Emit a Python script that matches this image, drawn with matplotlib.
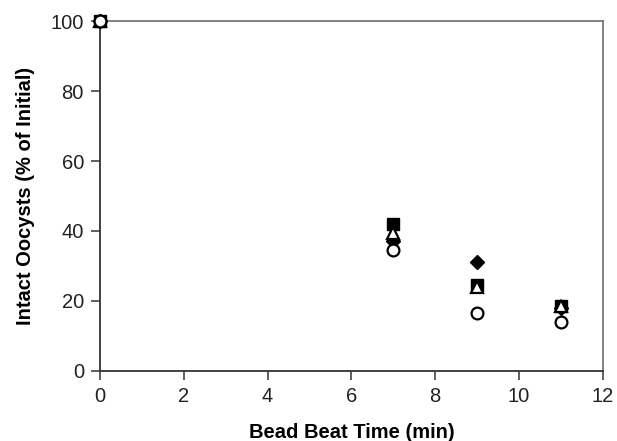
import matplotlib
matplotlib.use("Agg")
import matplotlib.pyplot as plt

plt.rcParams['font.family'] = ['Liberation Sans', 'DejaVu Sans']

# bead beat time (min)
times = [0, 7, 9, 11]

# intact oocysts (% of initial), one list per series
diamond_vals = [100, 37, 31, 18]
square_vals = [100, 42, 24.5, 18.5]
triangle_vals = [100, 39.5, 24, 18.5]
circle_vals = [100, 34.5, 16.5, 14]

fig = plt.figure(figsize=(6.17, 4.41), dpi=100)
ax = fig.add_axes([0.162, 0.159, 0.815, 0.793])

ax.plot(times, diamond_vals, linestyle='none', marker='D', markersize=7,
        color='black', zorder=3)
ax.plot(times, square_vals, linestyle='none', marker='s', markersize=8.5,
        color='black', zorder=4)
ax.plot(times, triangle_vals, linestyle='none', marker='^', markersize=9,
        markerfacecolor='white', markeredgecolor='black', markeredgewidth=1.6, zorder=5)
ax.plot(times, circle_vals, linestyle='none', marker='o', markersize=8.5,
        markerfacecolor='white', markeredgecolor='black', markeredgewidth=1.6, zorder=6)

ax.set_xlim(0, 12)
ax.set_ylim(0, 100)
ax.set_xticks(range(0, 13, 2))
ax.set_yticks(range(0, 101, 20))
ax.tick_params(direction='out', length=6.5, width=1.2, color='#444444',
               labelsize=14.5, pad=5, labelcolor='#222222')

for side in ['left', 'bottom']:
    ax.spines[side].set_color('#333333')
    ax.spines[side].set_linewidth(1.3)
for side in ['top', 'right']:
    ax.spines[side].set_color('#777777')
    ax.spines[side].set_linewidth(1.3)

ax.set_xlabel('Bead Beat Time (min)', fontsize=14.5, fontweight='bold', labelpad=12)
ax.set_ylabel('Intact Oocysts (% of Initial)', fontsize=14.5, fontweight='bold', labelpad=11)

for p in ax.lines:
    p.set_clip_on(False)

fig.savefig('out.png', dpi=100)
